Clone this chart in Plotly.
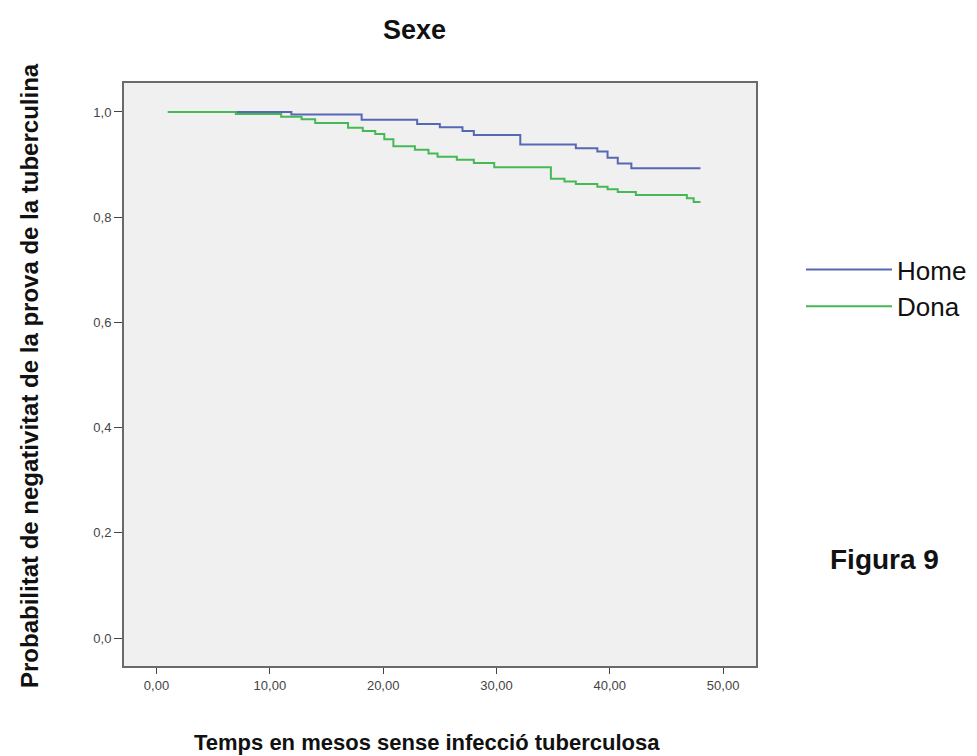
import plotly.graph_objects as go

# Kaplan-Meier step data
home_t = [1.0, 11.9, 18.1, 23.0, 25.0, 27.0, 28.0, 32.1, 37.0, 38.9, 39.8, 40.7, 41.9, 48.0]
home_s = [1.0, 0.995, 0.985, 0.977, 0.971, 0.964, 0.956, 0.938, 0.931, 0.925, 0.913, 0.902, 0.893, 0.893]

dona_t = [1.0, 7.0, 11.0, 12.8, 14.0, 16.9, 18.2, 19.3, 20.1, 20.9, 22.8, 24.0, 24.8, 26.5,
          28.0, 29.8, 34.8, 36.0, 37.0, 38.9, 39.8, 40.7, 42.3, 46.8, 47.4, 48.0]
dona_s = [1.0, 0.996, 0.991, 0.986, 0.979, 0.970, 0.964, 0.958, 0.948, 0.935, 0.928, 0.921, 0.915, 0.909,
          0.903, 0.895, 0.873, 0.868, 0.863, 0.858, 0.853, 0.848, 0.842, 0.836, 0.829, 0.829]

x_ticks = [0, 10, 20, 30, 40, 50]
x_tick_labels = ["0,00", "10,00", "20,00", "30,00", "40,00", "50,00"]
y_ticks = [0.0, 0.2, 0.4, 0.6, 0.8, 1.0]
y_tick_labels = ["0,0", "0,2", "0,4", "0,6", "0,8", "1,0"]

FONT = "Liberation Sans, Arial, sans-serif"

L, R, T, B = 116, 748, 75, 658
PW, PH = R - L, B - T


def px_x(px):
    return (px - L) / PW


def px_y(py):
    return 1 - (py - T) / PH


fig = go.Figure()
fig.add_trace(go.Scatter(x=home_t, y=home_s, mode="lines", line_shape="hv",
                         name="Home", line=dict(color="#5668b4", width=2)))
fig.add_trace(go.Scatter(x=dona_t, y=dona_s, mode="lines", line_shape="hv",
                         name="Dona", line=dict(color="#45b955", width=2)))

fig.update_layout(
    width=977, height=756,
    margin=dict(l=L, r=977 - R, t=T, b=756 - B),
    paper_bgcolor="white",
    plot_bgcolor="#f0f0f0",
    font=dict(family=FONT, color="#222"),
    showlegend=True,
    legend=dict(x=px_x(793), y=px_y(238), xanchor="left", yanchor="top",
                font=dict(size=26, color="#111", family=FONT),
                bgcolor="rgba(255,255,255,0)", tracegroupgap=0, itemwidth=86),
    xaxis=dict(range=[-2.87, 52.9], tickvals=x_ticks, ticktext=x_tick_labels,
               ticks="outside", ticklen=6, tickcolor="#444", tickwidth=1,
               showgrid=False, zeroline=False, showline=True, linecolor="#6a6a6a",
               linewidth=2, mirror=True,
               tickfont=dict(size=13, color="#444", family=FONT)),
    yaxis=dict(range=[-0.053, 1.055], tickvals=y_ticks, ticktext=y_tick_labels,
               ticks="outside", ticklen=8, tickcolor="#444", tickwidth=1,
               showgrid=False, zeroline=False, showline=True, linecolor="#6a6a6a",
               linewidth=2, mirror=True,
               tickfont=dict(size=13, color="#444", family=FONT)),
    annotations=[
        dict(text="<b>Sexe</b>", xref="paper", yref="paper", x=px_x(406),
             y=px_y(22), xanchor="center", yanchor="middle", showarrow=False,
             font=dict(size=27, color="#111", family=FONT)),
        dict(text="<b>Temps en mesos sense infecció tuberculosa</b>", xref="paper", yref="paper",
             x=px_x(419), y=px_y(734), xanchor="center", yanchor="middle",
             showarrow=False, font=dict(size=22, color="#111", family=FONT)),
        dict(text="<b>Probabilitat de negativitat de la prova de la tuberculina</b>", xref="paper",
             yref="paper", x=px_x(21), y=px_y(368), xanchor="center",
             yanchor="middle", textangle=-90, showarrow=False,
             font=dict(size=24, color="#111", family=FONT)),
        dict(text="<b>Figura 9</b>", xref="paper", yref="paper", x=px_x(876),
             y=px_y(551), xanchor="center", yanchor="middle", showarrow=False,
             font=dict(size=28, color="#111", family=FONT)),
    ],
)

fig.write_html("out.html")
